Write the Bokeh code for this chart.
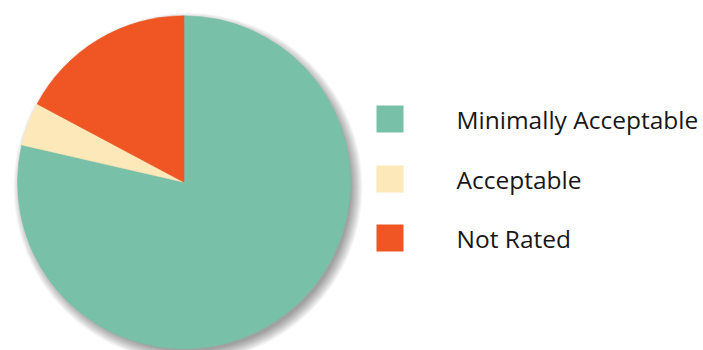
import math
from bokeh.plotting import figure
from bokeh.models import ColumnDataSource, Range1d
from bokeh.core.properties import value
from bokeh.embed import file_html
from bokeh.resources import INLINE

categories = ["Minimally Acceptable", "Acceptable", "Not Rated"]
shares = [78.6, 4.2, 17.2]
colors = ["#78C0A8", "#FCE8B8", "#F05624"]

W, H = 703, 350
p = figure(width=W, height=H, output_backend="svg", toolbar_location=None,
           x_range=Range1d(0, W), y_range=Range1d(0, H), min_border=0)
p.axis.visible = False
p.grid.visible = False
p.outline_line_color = None
p.background_fill_color = "white"
p.border_fill_color = "white"

cx, cy, r = 183.5, H - 181.8, 166.5

# soft drop shadow, offset down-right
for k in range(12):
    p.circle(x=cx + 4, y=cy - 5, radius=r - 3 + k * 1.0, fill_color="black",
             fill_alpha=0.035, line_color=None)

total = sum(shares)
starts, ends = [], []
a = math.pi / 2
for s in shares:
    starts.append(a)
    a -= 2 * math.pi * s / total
    ends.append(a)
src = ColumnDataSource(dict(start=starts, end=ends, color=colors, cat=categories))
p.wedge(x=cx, y=cy, radius=r, start_angle="start", end_angle="end",
        direction="clock", fill_color="color", line_color="color", line_width=0.5,
        source=src)

# legend
ly = [H - 118.5, H - 178.5, H - 237.5]
leg = ColumnDataSource(dict(y=ly, color=colors, cat=categories))
p.rect(x=389.5, y="y", width=27, height=27, fill_color="color", line_color=None, source=leg)
p.text(x=456, y="y", text="cat", source=leg, text_font=value("Open Sans"),
       text_font_size="24.5px", text_baseline="middle", text_align="left",
       text_color="#1A1718")

open("out.html", "w").write(file_html(p, INLINE))
